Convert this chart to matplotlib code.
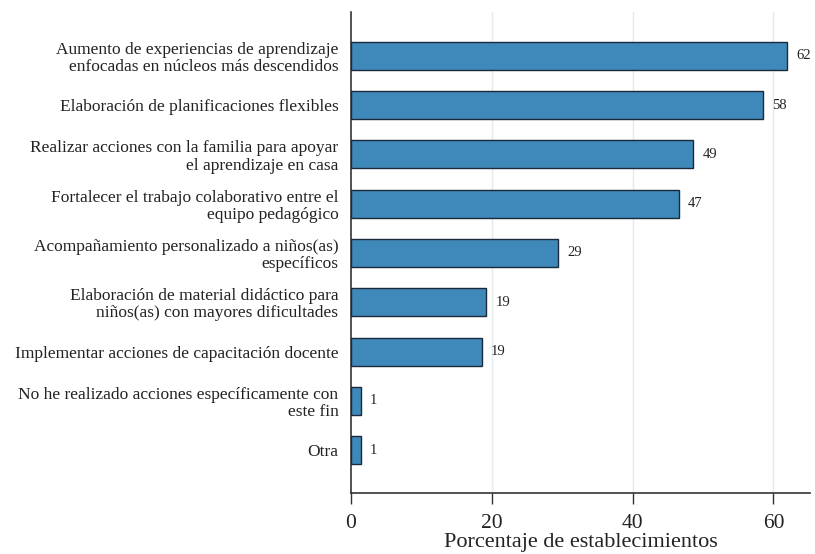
import matplotlib
matplotlib.use("Agg")
import matplotlib.pyplot as plt

categories = [
    "Aumento de experiencias de aprendizaje\nenfocadas en núcleos más descendidos",
    "Elaboración de planificaciones flexibles",
    "Realizar acciones con la familia para apoyar\nel aprendizaje en casa",
    "Fortalecer el trabajo colaborativo entre el\nequipo pedagógico",
    "Acompañamiento personalizado a niños(as)\nespecíficos",
    "Elaboración de material didáctico para\nniños(as) con mayores dificultades",
    "Implementar acciones de capacitación docente",
    "No he realizado acciones específicamente con\neste fin",
    "Otra",
]
values = [62.0, 58.5, 48.6, 46.6, 29.4, 19.2, 18.6, 1.4, 1.4]
labels = ["62", "58", "49", "47", "29", "19", "19", "1", "1"]
xticks = [0, 20, 40, 60]
xlabel = "Porcentaje de establecimientos"

plt.rcParams['font.family'] = ['Liberation Serif', 'DejaVu Serif']

fig = plt.figure(figsize=(8.15, 5.54), dpi=100)
ax = fig.add_axes([351/815, 1-493/554, (810-351)/815, (493-12)/554])

pos = list(range(len(categories)))
ax.barh(pos, values, height=0.57, color='#3e89b9', edgecolor='#1a2a3a', linewidth=1.0, zorder=3)
for p, v, lab in zip(pos, values, labels):
    ax.text(v + 1.3, p, lab, va='center', ha='left', fontsize=10.5, color='#222222', zorder=4)

ax.set_ylim(8.87, -0.89)
ax.set_xlim(0, 65.2)
ax.set_yticks(pos)
ax.set_yticklabels(categories, fontsize=12.5, color='#222222', linespacing=1.1)
ax.tick_params(axis='y', length=0, pad=9)
ax.set_xticks(xticks)
ax.set_xticklabels([str(t) for t in xticks], fontsize=15.5, color='#222222')
ax.tick_params(axis='x', length=8, width=1, color='#333333', pad=7)
ax.set_xlabel(xlabel, fontsize=16, color='#222222', labelpad=0)

for s in ['top', 'right']:
    ax.spines[s].set_visible(False)
for s in ['left', 'bottom']:
    ax.spines[s].set_color('#333333')
    ax.spines[s].set_linewidth(1.2)

for t in xticks[1:]:
    ax.axvline(t, color='#e4eaee', linewidth=1.0, zorder=0)

fig.savefig("out.png", dpi=100)
